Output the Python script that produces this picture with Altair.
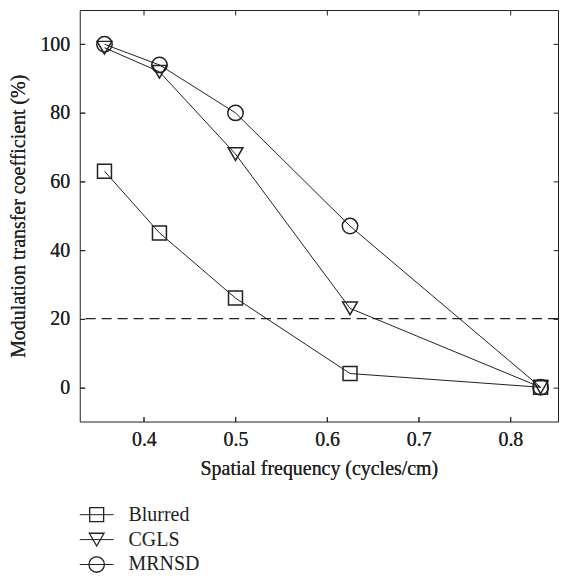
import altair as alt
import pandas as pd

freq = [0.357, 0.417, 0.5, 0.625, 0.833]
blurred = [63, 45, 26, 4, 0]
cgls = [99, 92, 68, 23, 0]
mrnsd = [100, 94, 80, 47, 0]
series_names = ["Blurred", "CGLS", "MRNSD"]
threshold = [20]
x_ticks = [0.4, 0.5, 0.6, 0.7, 0.8]
y_ticks = [0, 20, 40, 60, 80, 100]

rows = []
for name, vals in zip(series_names, [blurred, cgls, mrnsd]):
    for f, v in zip(freq, vals):
        rows.append({"freq": f, "value": v, "series": name})
df = pd.DataFrame(rows)

FONT = "Liberation Serif"
INK = "#222222"
shape_scale = alt.Scale(domain=series_names, range=["square", "triangle-down", "circle"])
size_scale = alt.Scale(domain=series_names, range=[196, 240, 280])
leg_size_scale = alt.Scale(domain=series_names, range=[144, 180, 196])

xs = alt.Scale(domain=[0.33, 0.852], nice=False, zero=False)
ys = alt.Scale(domain=[-10, 110], nice=False, zero=False)

ax_common = dict(domain=False, ticks=True, tickSize=5, offset=-5, tickColor=INK,
                 grid=False, labelFont=FONT, labelFontSize=20, labelColor=INK,
                 titleFont=FONT, titleFontSize=20, titleColor=INK, titleFontWeight="normal")

x_bottom = alt.Axis(orient="bottom", values=x_ticks, format=".1f", labelPadding=8,
                    title="Spatial frequency (cycles/cm)", titlePadding=9, **ax_common)
y_left = alt.Axis(orient="left", values=y_ticks, labelPadding=10,
                  title="Modulation transfer coefficient (%)", titlePadding=11, **ax_common)
x_top = alt.Axis(orient="top", values=x_ticks, labels=False, title=None, **ax_common)
y_right = alt.Axis(orient="right", values=y_ticks, labels=False, title=None, **ax_common)

base = alt.Chart(df)
lines = base.mark_line(color=INK, strokeWidth=1).encode(
    x=alt.X("freq:Q", scale=xs, axis=x_bottom),
    y=alt.Y("value:Q", scale=ys, axis=y_left),
    detail="series:N",
)
points = base.mark_point(filled=False, color=INK, strokeWidth=1.5, opacity=1).encode(
    x=alt.X("freq:Q", scale=xs, axis=x_bottom),
    y=alt.Y("value:Q", scale=ys, axis=y_left),
    shape=alt.Shape("series:N", scale=shape_scale, legend=None),
    size=alt.Size("series:N", scale=size_scale, legend=None),
)
mirror = base.mark_point(opacity=0).encode(
    x=alt.X("freq:Q", scale=xs, axis=x_top),
    y=alt.Y("value:Q", scale=ys, axis=y_right),
)
dash = alt.Chart(pd.DataFrame({"t": threshold})).mark_rule(
    color=INK, strokeWidth=1.2, strokeDash=[10, 6]
).encode(y=alt.Y("t:Q", scale=ys, axis=None))

main = alt.layer(lines, points, mirror, dash).resolve_axis(x="independent", y="independent").properties(
    width=480, height=413
)

leg_df = pd.DataFrame({"series": series_names})
ly = alt.Y("series:N", sort=series_names, axis=None)
leg_line = alt.Chart(leg_df).mark_rule(color=INK, strokeWidth=1).encode(
    y=ly, x=alt.value(0), x2=alt.value(34)
)
leg_pt = alt.Chart(leg_df).mark_point(filled=False, color=INK, strokeWidth=1.3, opacity=1).encode(
    y=ly, x=alt.value(17),
    shape=alt.Shape("series:N", scale=shape_scale, legend=None),
    size=alt.Size("series:N", scale=leg_size_scale, legend=None),
)
leg_txt = alt.Chart(leg_df).mark_text(align="left", baseline="middle", font=FONT, fontSize=20, color=INK).encode(
    y=ly, x=alt.value(49), text="series:N"
)
legend = alt.layer(leg_line, leg_pt, leg_txt).properties(
    width=150, height=75, view=alt.ViewBackground(strokeOpacity=0)
)

chart = alt.vconcat(main, legend, spacing=23).configure_view(
    stroke=INK, strokeWidth=1
).properties(padding={"left": 0, "top": 0, "right": 0, "bottom": 0})

chart.save("out.html", embed_options={"renderer": "svg", "actions": False})
